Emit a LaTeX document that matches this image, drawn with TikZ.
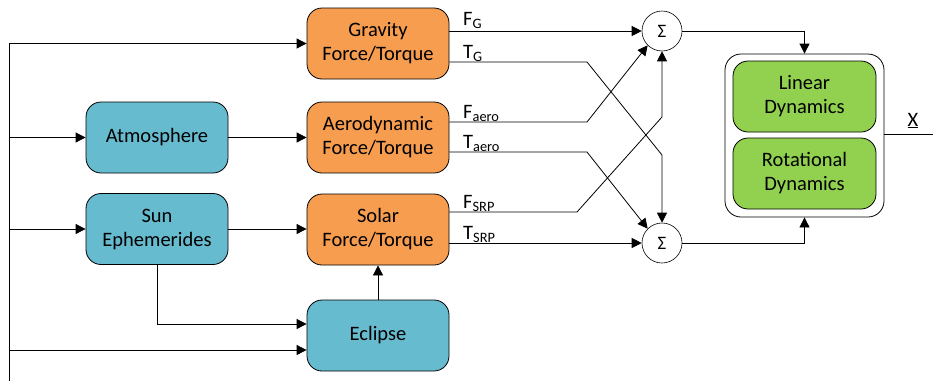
\documentclass[tikz,border=0pt]{standalone}
\usepackage{fontspec}
\setmainfont{Carlito}
\usetikzlibrary{arrows.meta,calc}
\definecolor{orangebox}{HTML}{F79D50}
\definecolor{tealbox}{HTML}{67BBCF}
\definecolor{greenbox}{HTML}{92D050}
\begin{document}
\begin{tikzpicture}[x=1pt,y=-1pt,
  txt/.style={font=\fontsize{20.5}{24}\selectfont},
  box/.style={txt, draw, rounded corners=15pt, minimum width=142pt, minimum height=71pt, align=center, line width=0.8pt, inner sep=0pt},
  envbox/.style={box, fill=tealbox},
  forcebox/.style={box, fill=orangebox},
  dynbox/.style={box, fill=greenbox, minimum width=143pt},
  sumnode/.style={font=\fontsize{19}{23}\selectfont, draw, circle, minimum size=40pt, inner sep=0pt, fill=white, line width=0.6pt},
  lbl/.style={txt, anchor=base west, inner sep=0pt},
  conn/.style={line width=0.8pt},
  arr/.style={conn, -{Triangle[length=10pt,width=10pt]}}]
\useasboundingbox (0,0) rectangle (933,381);
% nodes
\node[forcebox] (grav) at (378,43.5) {Gravity\\Force/Torque};
\node[envbox] (atm) at (157,137.5) {Atmosphere};
\node[envbox] (sun) at (157,229) {Sun\\Ephemerides};
\node[forcebox] (aero) at (378,137.5) {Aerodynamic\\Force/Torque};
\node[forcebox] (solar) at (378,229.5) {Solar\\Force/Torque};
\node[envbox] (ecl) at (378,335.5) {Eclipse};
\node[sumnode] (sumF) at (662,31) {Σ};
\node[sumnode] (sumT) at (662,243) {Σ};
\node[draw, rounded corners=16pt, minimum width=159pt, minimum height=163pt, line width=0.8pt] (cont) at (804.5,135.5) {};
\node[dynbox] (lin) at (804.5,96.5) {Linear\\Dynamics};
\node[dynbox] (rot) at (804.5,173.5) {Rotational\\Dynamics};
\coordinate (trunk) at (9,381);
\coordinate (xout) at (933,134);
% input trunk
\draw[arr] (trunk) |- (grav.west);
\draw[arr] (trunk |- atm.west) -- (atm.west);
\draw[arr] (trunk |- sun.west) -- (sun.west);
\draw[arr] (trunk |- 0,350) -- (ecl.west |- 0,350);
\draw[arr] (atm.east) -- (aero.west);
\draw[arr] (sun.east) -- (solar.west |- sun.east);
\draw[arr] (sun.south) |- (ecl.west |- 0,324);
\draw[arr] (ecl.north) -- (solar.south);
% force / torque outputs
\draw[arr] (sumF.west -| grav.east) -- (sumF.west);
\draw[arr] (grav.east |- 0,62) -- (587,62) -- (662,155) -- (sumT.north);
\draw[arr] (aero.east |- 0,122) -- (587,122) -- (sumF.225);
\draw[arr] (aero.east |- 0,152) -- (587,152) -- (sumT.135);
\draw[arr] (solar.east |- 0,212) -- (577,212) -- (662,117) -- (sumF.south);
\draw[arr] (sumT.west -| solar.east) -- (sumT.west);
\node[lbl] at (463,25) {F\textsubscript{G}};
\node[lbl] at (463,58) {T\textsubscript{G}};
\node[lbl] at (463,118) {F\textsubscript{aero}};
\node[lbl] at (463,148) {T\textsubscript{aero}};
\node[lbl] at (463,208) {F\textsubscript{SRP}};
\node[lbl] at (463,239) {T\textsubscript{SRP}};
% sums to dynamics
\draw[arr] (sumF.east) -| (cont.north);
\draw[arr] (sumT.east) -| (cont.south);
\draw[conn] (cont.east |- xout) -- (xout);
\node[txt, anchor=base] at (913,126) {\underline{X}};
\end{tikzpicture}
\end{document}
